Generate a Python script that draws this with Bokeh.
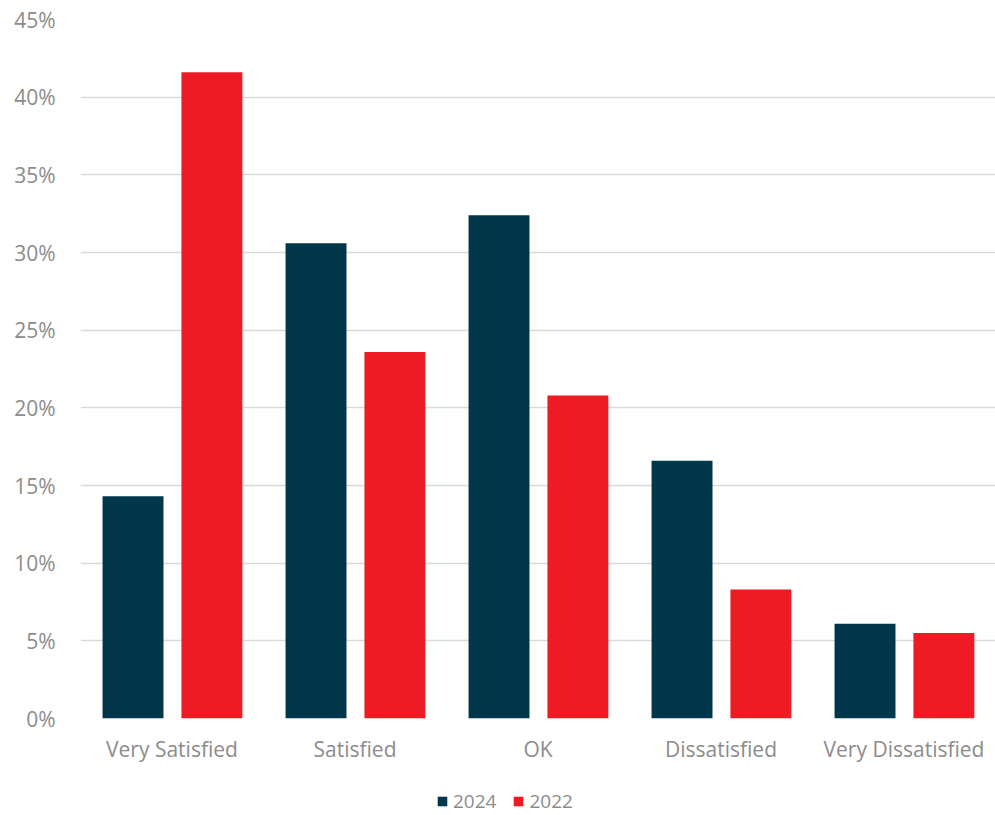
from bokeh.plotting import figure
from bokeh.layouts import column
from bokeh.models import (ColumnDataSource, FactorRange, Range1d, SingleIntervalTicker,
                          PrintfTickFormatter, Legend, LegendItem)
from bokeh.transform import dodge
from bokeh.embed import file_html
from bokeh.resources import INLINE

# Satisfaction survey shares (percent of respondents)
categories = ["Very Satisfied", "Satisfied", "OK", "Dissatisfied", "Very Dissatisfied"]
share_2024 = [14.3, 30.6, 32.4, 16.6, 6.1]
share_2022 = [41.6, 23.6, 20.8, 8.3, 5.5]
series_labels = ["2024", "2022"]

COLOR_2024 = "#02364A"
COLOR_2022 = "#ED1C24"
TEXT_GRAY = "#8C8C8C"
FONT = "Open Sans"
FONT_SIZE = "21px"

source = ColumnDataSource(dict(cat=categories, y2024=share_2024, y2022=share_2022))

p = figure(width=995, height=770, x_range=FactorRange(*categories), y_range=Range1d(0, 45),
           output_backend="svg", toolbar_location=None,
           min_border_left=80, min_border_right=0, min_border_top=19, min_border_bottom=52)

p.vbar(x=dodge("cat", -0.213, range=p.x_range), top="y2024", width=0.333,
       source=source, color=COLOR_2024, line_color=None)
p.vbar(x=dodge("cat", 0.218, range=p.x_range), top="y2022", width=0.333,
       source=source, color=COLOR_2022, line_color=None)

p.outline_line_color = None
p.xgrid.grid_line_color = None
p.ygrid.grid_line_color = "#D9D9D9"
p.ygrid.grid_line_width = 1.5

p.yaxis.ticker = SingleIntervalTicker(interval=5)
p.yaxis.formatter = PrintfTickFormatter(format="%d%%")
for ax in (p.xaxis[0], p.yaxis[0]):
    ax.axis_line_color = None
    ax.major_tick_line_color = None
    ax.minor_tick_line_color = None
    ax.major_tick_out = 0
    ax.major_tick_in = 0
    ax.major_label_text_font = FONT
    ax.major_label_text_font_size = FONT_SIZE
    ax.major_label_text_color = TEXT_GRAY
p.yaxis.major_label_standoff = 21
p.xaxis.major_label_standoff = 16

# separate strip holding the series legend under the chart
leg = figure(width=995, height=45, x_range=Range1d(0, 1), y_range=Range1d(0, 1),
             output_backend="svg", toolbar_location=None,
             min_border_left=0, min_border_right=0, min_border_top=0, min_border_bottom=0)
leg.axis.visible = False
leg.grid.visible = False
leg.outline_line_color = None
# key swatches: bars kept outside the strip's visible range
k1 = leg.vbar(x=[-5], top=[-5], width=0.1, color=COLOR_2024, line_color=None)
k2 = leg.vbar(x=[-5], top=[-5], width=0.1, color=COLOR_2022, line_color=None)
legend = Legend(items=[LegendItem(label=series_labels[0], renderers=[k1]),
                       LegendItem(label=series_labels[1], renderers=[k2])],
                orientation="horizontal", location=(356, 1),
                label_text_font=FONT, label_text_font_size="19px", label_text_color=TEXT_GRAY,
                glyph_width=12, glyph_height=12, label_standoff=5, spacing=16,
                border_line_color=None, background_fill_alpha=0, padding=0, margin=0)
leg.add_layout(legend, "center")

layout = column(p, leg, spacing=0)
open("out.html", "w").write(file_html(layout, INLINE))
